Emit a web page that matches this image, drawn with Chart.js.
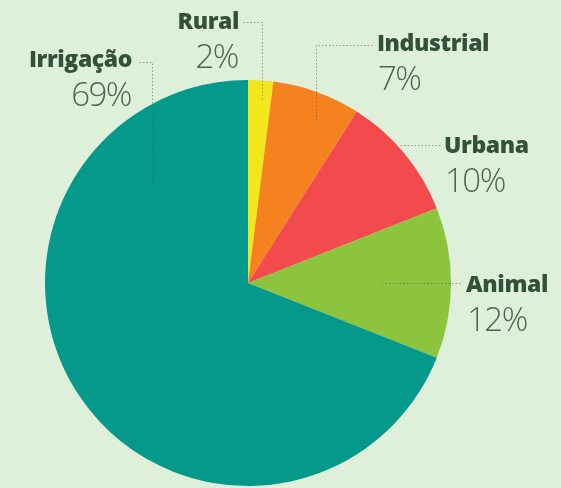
<!DOCTYPE html>
<html>
<head>
<meta charset="utf-8">
<script src="https://cdn.jsdelivr.net/npm/chart.js@4/dist/chart.umd.min.js"></script>
<style>
  html, body { margin: 0; padding: 0; background: #def0da; }
  #wrap { width: 561px; height: 488px; position: relative; }
</style>
</head>
<body>
<div id="wrap"><canvas id="uso"></canvas></div>
<script>
(function () {
  "use strict";

  /* ── Dados ───────────────────────────────────────────────── */
  var categorias = ["Rural", "Industrial", "Urbana", "Animal", "Irrigação"];
  var percentuais = [2, 7, 10, 12, 69];
  var cores = ["#f2e61c", "#f5821f", "#f24a4d", "#8dc43e", "#05998c"];

  /* ── Posição dos rótulos e linhas-guia (x, y, alinhamento) ─ */
  var rotulos = [
    { x: 239, y: 22, align: "right", guia: [[243, 22], [262, 22], [262, 100]] },
    { x: 377, y: 44, align: "left", guia: [[372, 45], [316, 45], [316, 122]] },
    { x: 444, y: 146, align: "left", guia: [[440, 145], [398, 145]] },
    { x: 466, y: 285, align: "left", guia: [[460, 283], [382, 283]] },
    { x: 132, y: 60, align: "right", guia: [[139, 62], [152, 62], [152, 185]] }
  ];

  var pluginRotulos = {
    id: "rotulos",
    afterDatasetsDraw: function (chart) {
      var ctx = chart.ctx;
      ctx.save();
      rotulos.forEach(function (r, i) {
        // linha pontilhada
        ctx.strokeStyle = "rgba(70,95,75,0.55)";
        ctx.lineWidth = 1;
        ctx.setLineDash([1.5, 2]);
        ctx.beginPath();
        r.guia.forEach(function (p, k) {
          if (k === 0) ctx.moveTo(p[0] + 0.5, p[1] + 0.5);
          else ctx.lineTo(p[0] + 0.5, p[1] + 0.5);
        });
        ctx.stroke();
        ctx.setLineDash([]);

        // nome e percentual
        ctx.textAlign = r.align;
        ctx.textBaseline = "middle";
        ctx.fillStyle = "#33503a";
        ctx.font = "800 23px 'Open Sans', sans-serif";
        ctx.letterSpacing = "-0.4px";
        ctx.fillText(categorias[i], r.x, r.y);
        ctx.fillStyle = "#4a6851";
        ctx.font = "300 33px 'Open Sans', sans-serif";
        ctx.letterSpacing = "-1.5px";
        var dx = r.align === "left" ? 1 : -1;
        ctx.fillText(percentuais[i] + "%", r.x + dx, r.y + 37);
      });
      ctx.restore();
    }
  };

  new Chart(document.getElementById("uso"), {
    type: "pie",
    data: {
      labels: categorias,
      datasets: [{
        data: percentuais,
        backgroundColor: cores,
        borderWidth: 0
      }]
    },
    options: {
      responsive: true,
      maintainAspectRatio: false,
      animation: false,
      layout: { padding: { left: 45, right: 110, top: 80, bottom: 2 } },
      plugins: {
        legend: { display: false },
        tooltip: { enabled: false }
      }
    },
    plugins: [pluginRotulos]
  });
})();
</script>
</body>
</html>
